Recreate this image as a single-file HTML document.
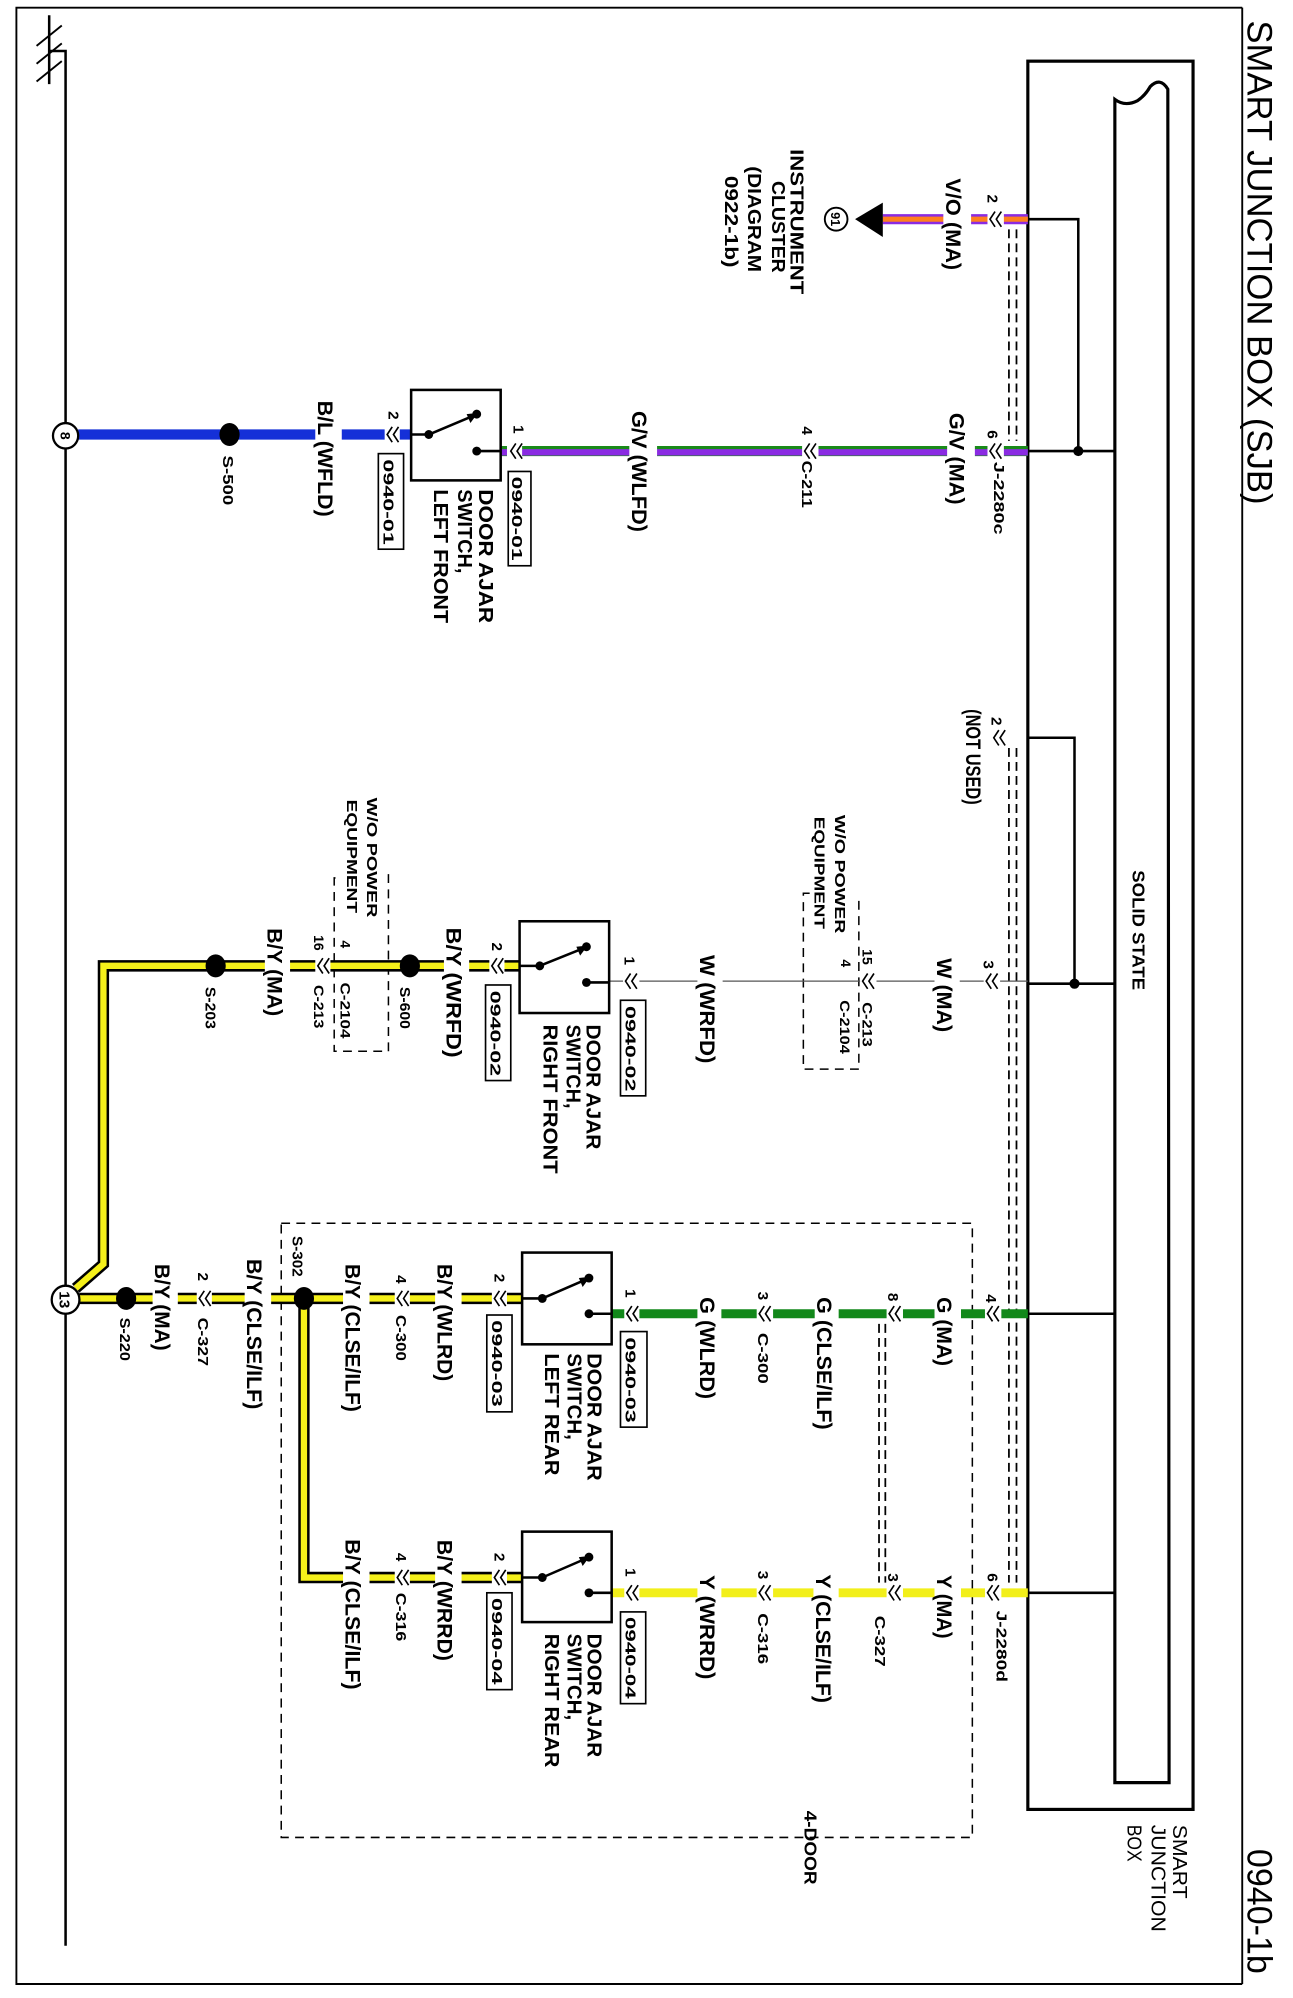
<!DOCTYPE html>
<html><head><meta charset="utf-8"><style>
html,body{margin:0;padding:0;background:#fff;}
svg{display:block;}
text{font-family:"Liberation Sans",Arial,sans-serif;font-weight:bold;fill:#000;}
</style></head><body>
<svg width="1293" height="1998" viewBox="0 0 1015 1568" preserveAspectRatio="none" xmlns="http://www.w3.org/2000/svg">
<rect x="0" y="0" width="1015" height="1568" fill="#fff"/>
<g transform="scale(0.99,1)">
<!-- frame -->
<polyline points="985,6 13,6 13,1557 985,1557" fill="none" stroke="#000" stroke-width="1.5"/>
<line x1="985" y1="6" x2="985" y2="1557" stroke="#000" stroke-width="1.5"/>
<!-- ground -->
<line x1="39" y1="12" x2="39" y2="66" stroke="#000" stroke-width="2"/>
<line x1="29" y1="36" x2="49" y2="20" stroke="#000" stroke-width="1.5"/>
<line x1="29" y1="50" x2="49" y2="34" stroke="#000" stroke-width="1.5"/>
<line x1="29" y1="64" x2="49" y2="48" stroke="#000" stroke-width="1.5"/>
<polyline points="39,40 52,40 52,1527" fill="none" stroke="#000" stroke-width="2"/>

<!-- SJB box -->
<rect x="815" y="48" width="131" height="1372" fill="none" stroke="#000" stroke-width="2.5"/>
<path d="M884,1399 L884,78 Q892,84 902,79 Q908,75 912,68 Q920,60 926,70 L927,1399 Z" fill="none" stroke="#000" stroke-width="2.5"/>
<polyline points="815,172 855,172 855,354" fill="none" stroke="#000" stroke-width="2"/>
<line x1="815" y1="354" x2="884" y2="354" stroke="#000" stroke-width="2"/>
<circle cx="855" cy="354" r="4" fill="#000"/>
<polyline points="815,579 852,579 852,772" fill="none" stroke="#000" stroke-width="2"/>
<line x1="815" y1="772" x2="884" y2="772" stroke="#000" stroke-width="2"/>
<circle cx="852" cy="772" r="4" fill="#000"/>
<line x1="815" y1="1031" x2="884" y2="1031" stroke="#000" stroke-width="2"/>
<line x1="815" y1="1250" x2="884" y2="1250" stroke="#000" stroke-width="2"/>
<!-- connector shell dashed lines -->
<g stroke="#000" stroke-width="1.4" stroke-dasharray="7,4" fill="none">
<line x1="800" y1="180" x2="800" y2="346"/><line x1="806" y1="180" x2="806" y2="346"/>
<line x1="800" y1="587" x2="800" y2="1242"/><line x1="806" y1="587" x2="806" y2="1242"/>
<line x1="697" y1="1039" x2="697" y2="1242"/><line x1="702" y1="1039" x2="702" y2="1242"/>
</g>
<!-- dashed option boxes -->
<g stroke="#000" stroke-width="1.2" stroke-dasharray="7,5" fill="none">
<rect x="223" y="960" width="548" height="482"/>
<polyline points="642,701 637,701 637,839 681,839 681,703"/>
<polyline points="308,686 308,825 265,825 265,689 269,689"/>
</g>

<!-- wires -->
<line x1="700" y1="172" x2="815" y2="172" stroke="#8a2be2" stroke-width="8"/>
<line x1="700" y1="172" x2="815" y2="172" stroke="#ff7f1e" stroke-width="4"/>
<polygon points="678,172 700,159 700,186" fill="#000"/>
<circle cx="663" cy="172" r="9" fill="#fff" stroke="#000" stroke-width="1.5"/>
<line x1="397" y1="354" x2="815" y2="354" stroke="#1a8a1a" stroke-width="8"/>
<line x1="397" y1="355" x2="815" y2="355" stroke="#8a2be2" stroke-width="5"/>
<line x1="62" y1="341" x2="326" y2="341" stroke="#1530d8" stroke-width="8"/>
<line x1="483" y1="770" x2="815" y2="770" stroke="#555" stroke-width="1"/>
<line x1="485" y1="1031" x2="815" y2="1031" stroke="#12881a" stroke-width="7"/>
<line x1="485" y1="1250" x2="815" y2="1250" stroke="#f2ef1a" stroke-width="7"/>
<g fill="none" stroke-linejoin="miter">
<polyline points="412,758 82,758 82,992 60,1011" stroke="#000" stroke-width="9"/>
<polyline points="412,758 82,758 82,992 60,1011" stroke="#f5f01a" stroke-width="5"/>
<line x1="63" y1="1019" x2="414" y2="1019" stroke="#000" stroke-width="9"/>
<line x1="63" y1="1019" x2="414" y2="1019" stroke="#f5f01a" stroke-width="5"/>
<polyline points="241,1019 241,1238 414,1238" stroke="#000" stroke-width="9"/>
<polyline points="241,1019 241,1238 414,1238" stroke="#f5f01a" stroke-width="5"/>
</g>

<!-- white gaps -->
<g fill="#fff">
<rect x="748" y="165" width="22" height="14"/><rect x="783" y="165" width="13" height="14"/>
<rect x="751" y="346" width="22" height="16"/><rect x="783" y="346" width="13" height="16"/>
<rect x="636" y="346" width="13" height="16"/><rect x="499" y="346" width="22" height="16"/>
<rect x="402" y="346" width="12" height="16"/>
<rect x="250" y="335" width="21" height="13"/><rect x="305" y="335" width="12" height="13"/>
<rect x="741" y="766" width="20" height="8"/><rect x="553" y="766" width="20" height="8"/>
<rect x="780" y="766" width="13" height="8"/><rect x="682" y="766" width="13" height="8"/>
<rect x="494" y="766" width="13" height="8"/>
<rect x="352" y="752" width="20" height="12"/><rect x="210" y="752" width="20" height="12"/>
<rect x="388" y="752" width="12" height="12"/><rect x="250" y="752" width="12" height="12"/>
<rect x="741" y="1026" width="21" height="10"/><rect x="646" y="1026" width="19" height="10"/>
<rect x="553" y="1026" width="19" height="10"/>
<rect x="781" y="1026" width="13" height="10"/><rect x="703" y="1026" width="13" height="10"/>
<rect x="600" y="1026" width="13" height="10"/><rect x="495" y="1026" width="12" height="10"/>
<rect x="345" y="1013" width="21" height="12"/><rect x="272" y="1013" width="21" height="12"/>
<rect x="194" y="1013" width="21" height="12"/><rect x="121" y="1013" width="20" height="12"/>
<rect x="390" y="1013" width="12" height="12"/><rect x="313" y="1013" width="12" height="12"/>
<rect x="156" y="1013" width="12" height="12"/>
<rect x="741" y="1245" width="21" height="10"/><rect x="645" y="1245" width="20" height="10"/>
<rect x="553" y="1245" width="19" height="10"/>
<rect x="781" y="1245" width="13" height="10"/><rect x="703" y="1245" width="13" height="10"/>
<rect x="600" y="1245" width="13" height="10"/><rect x="495" y="1245" width="12" height="10"/>
<rect x="345" y="1232" width="21" height="12"/><rect x="272" y="1232" width="21" height="12"/>
<rect x="390" y="1232" width="12" height="12"/><rect x="313" y="1232" width="12" height="12"/>
</g>

<!-- connector chevrons -->
<g fill="none" stroke="#000" stroke-width="1.3">
<path d="M789,166 L785,172 L789,178 M794,166 L790,172 L794,178"/>
<path d="M789,348 L785,354 L789,360 M794,348 L790,354 L794,360"/>
<path d="M642,348 L638,354 L642,360 M647,348 L643,354 L647,360"/>
<path d="M409,348 L405,354 L409,360 M414,348 L410,354 L414,360"/>
<path d="M311,335 L307,341 L311,347 M316,335 L312,341 L316,347"/>
<path d="M792,573 L788,579 L792,585 M797,573 L793,579 L797,585"/>
<path d="M786,764 L782,770 L786,776 M791,764 L787,770 L791,776"/>
<path d="M688,764 L684,770 L688,776 M693,764 L689,770 L693,776"/>
<path d="M500,764 L496,770 L500,776 M505,764 L501,770 L505,776"/>
<path d="M394,752 L390,758 L394,764 M399,752 L395,758 L399,764"/>
<path d="M256,752 L252,758 L256,764 M261,752 L257,758 L261,764"/>
<path d="M787,1025 L783,1031 L787,1037 M792,1025 L788,1031 L792,1037"/>
<path d="M709,1025 L705,1031 L709,1037 M714,1025 L710,1031 L714,1037"/>
<path d="M606,1025 L602,1031 L606,1037 M611,1025 L607,1031 L611,1037"/>
<path d="M501,1025 L497,1031 L501,1037 M506,1025 L502,1031 L506,1037"/>
<path d="M396,1013 L392,1019 L396,1025 M401,1013 L397,1019 L401,1025"/>
<path d="M319,1013 L315,1019 L319,1025 M324,1013 L320,1019 L324,1025"/>
<path d="M162,1013 L158,1019 L162,1025 M167,1013 L163,1019 L167,1025"/>
<path d="M787,1244 L783,1250 L787,1256 M792,1244 L788,1250 L792,1256"/>
<path d="M709,1244 L705,1250 L709,1256 M714,1244 L710,1250 L714,1256"/>
<path d="M606,1244 L602,1250 L606,1256 M611,1244 L607,1250 L611,1256"/>
<path d="M501,1244 L497,1250 L501,1256 M506,1244 L502,1250 L506,1256"/>
<path d="M396,1232 L392,1238 L396,1244 M401,1232 L397,1238 L401,1244"/>
<path d="M319,1232 L315,1238 L319,1244 M324,1232 L320,1238 L324,1244"/>
</g>

<g fill="#000">
<ellipse cx="182" cy="341" rx="8" ry="9"/>
<ellipse cx="325" cy="758" rx="8" ry="9"/>
<ellipse cx="171" cy="758" rx="8" ry="9"/>
<ellipse cx="241" cy="1019" rx="8" ry="9"/>
<ellipse cx="100" cy="1019" rx="8" ry="9"/>
</g>
<circle cx="52" cy="342" r="10" fill="#fff" stroke="#000" stroke-width="1.8"/>
<circle cx="52" cy="1020" r="11" fill="#fff" stroke="#000" stroke-width="1.8"/>

<!-- switches -->
<g stroke="#000" stroke-width="2" fill="#fff">
<rect x="326" y="306" width="71" height="71"/>
<rect x="412" y="723" width="71" height="72"/>
<rect x="414" y="983" width="71" height="72"/>
<rect x="414" y="1202" width="71" height="71"/>
</g>
<g stroke="#000" stroke-width="2" fill="none">
<line x1="326" y1="341" x2="340" y2="341"/><line x1="340" y1="341" x2="376" y2="326"/><line x1="378" y1="354" x2="397" y2="354"/>
<line x1="412" y1="758" x2="428" y2="758"/><line x1="428" y1="758" x2="463" y2="744"/><line x1="465" y1="771" x2="483" y2="771"/>
<line x1="414" y1="1019" x2="430" y2="1019"/><line x1="430" y1="1019" x2="465" y2="1004"/><line x1="467" y1="1031" x2="485" y2="1031"/>
<line x1="414" y1="1238" x2="430" y2="1238"/><line x1="430" y1="1238" x2="465" y2="1223"/><line x1="467" y1="1250" x2="485" y2="1250"/>
</g>
<g fill="#000">
<circle cx="340" cy="341" r="3.5"/><circle cx="378" cy="325" r="3.5"/><circle cx="378" cy="354" r="3.5"/>
<polygon points="370,325 379,324 373,332"/>
<circle cx="428" cy="758" r="3.5"/><circle cx="465" cy="743" r="3.5"/><circle cx="465" cy="771" r="3.5"/>
<polygon points="457,743 466,742 460,750"/>
<circle cx="430" cy="1019" r="3.5"/><circle cx="467" cy="1003" r="3.5"/><circle cx="467" cy="1031" r="3.5"/>
<polygon points="459,1003 468,1002 462,1010"/>
<circle cx="430" cy="1238" r="3.5"/><circle cx="467" cy="1222" r="3.5"/><circle cx="467" cy="1250" r="3.5"/>
<polygon points="459,1222 468,1221 462,1229"/>
</g>

<g fill="#fff" stroke="#000" stroke-width="1.3">
<rect x="403" y="370" width="18" height="74"/>
<rect x="300" y="356" width="20" height="75"/>
<rect x="492" y="785" width="20" height="75"/>
<rect x="385" y="773" width="20" height="75"/>
<rect x="492" y="1045" width="21" height="75"/>
<rect x="386" y="1032" width="20" height="76"/>
<rect x="492" y="1265" width="20" height="72"/>
<rect x="386" y="1250" width="20" height="76"/>
</g>

<!-- TEXT -->
<g>
<text transform="translate(989,206) rotate(90)" text-anchor="middle" font-size="28" textLength="380" lengthAdjust="spacingAndGlyphs" style="font-weight:normal">SMART JUNCTION BOX (SJB)</text>
<text transform="translate(989,1500) rotate(90)" text-anchor="middle" font-size="28" textLength="98" lengthAdjust="spacingAndGlyphs" style="font-weight:normal">0940-1b</text>
<text transform="translate(930,1432) rotate(90)" font-size="16" textLength="58" lengthAdjust="spacingAndGlyphs" style="font-weight:normal">SMART</text>
<text transform="translate(913,1432) rotate(90)" font-size="16" textLength="84" lengthAdjust="spacingAndGlyphs" style="font-weight:normal">JUNCTION</text>
<text transform="translate(894,1432) rotate(90)" font-size="16" textLength="29" lengthAdjust="spacingAndGlyphs" style="font-weight:normal">BOX</text>
<text transform="translate(638,1450) rotate(90)" text-anchor="middle" font-size="14" textLength="58" lengthAdjust="spacingAndGlyphs">4-DOOR</text>
<text transform="translate(898,730) rotate(90)" text-anchor="middle" font-size="14" textLength="94" lengthAdjust="spacingAndGlyphs">SOLID STATE</text>

<text transform="translate(627,174) rotate(90)" text-anchor="middle" font-size="15" textLength="114" lengthAdjust="spacingAndGlyphs">INSTRUMENT</text>
<text transform="translate(612,178) rotate(90)" text-anchor="middle" font-size="15" textLength="72" lengthAdjust="spacingAndGlyphs">CLUSTER</text>
<text transform="translate(593,172) rotate(90)" text-anchor="middle" font-size="15" textLength="83" lengthAdjust="spacingAndGlyphs">(DIAGRAM</text>
<text transform="translate(575,174) rotate(90)" text-anchor="middle" font-size="15" textLength="72" lengthAdjust="spacingAndGlyphs">0922-1b)</text>
<text transform="translate(659,172) rotate(90)" text-anchor="middle" font-size="10">91</text>
<text transform="translate(48,342) rotate(90)" text-anchor="middle" font-size="11">8</text>
<text transform="translate(47,1020) rotate(90)" text-anchor="middle" font-size="12">13</text>

<text transform="translate(750,176) rotate(90)" text-anchor="middle" font-size="17" textLength="72" lengthAdjust="spacingAndGlyphs">V/O (MA)</text>
<text transform="translate(783,156) rotate(90)" text-anchor="middle" font-size="12">2</text>
<text transform="translate(753,360) rotate(90)" text-anchor="middle" font-size="17" textLength="72" lengthAdjust="spacingAndGlyphs">G/V (MA)</text>
<text transform="translate(783,341) rotate(90)" text-anchor="middle" font-size="12">6</text>
<text transform="translate(788,391) rotate(90)" text-anchor="middle" font-size="12" textLength="57" lengthAdjust="spacingAndGlyphs">J-2280c</text>
<text transform="translate(636,380) rotate(90)" text-anchor="middle" font-size="12" textLength="37" lengthAdjust="spacingAndGlyphs">C-211</text>
<text transform="translate(636,338) rotate(90)" text-anchor="middle" font-size="12">4</text>
<text transform="translate(501,370) rotate(90)" text-anchor="middle" font-size="17" textLength="95" lengthAdjust="spacingAndGlyphs">G/V (WLFD)</text>
<text transform="translate(407,337) rotate(90)" text-anchor="middle" font-size="12">1</text>
<text transform="translate(406,407) rotate(90)" text-anchor="middle" font-size="12" textLength="66" lengthAdjust="spacingAndGlyphs">0940-01</text>
<text transform="translate(308,326) rotate(90)" text-anchor="middle" font-size="12">2</text>
<text transform="translate(304,394) rotate(90)" text-anchor="middle" font-size="12" textLength="67" lengthAdjust="spacingAndGlyphs">0940-01</text>
<text transform="translate(252,360) rotate(90)" text-anchor="middle" font-size="17" textLength="91" lengthAdjust="spacingAndGlyphs">B/L (WFLD)</text>
<text transform="translate(177,377) rotate(90)" text-anchor="middle" font-size="12" textLength="39" lengthAdjust="spacingAndGlyphs">S-500</text>
<text transform="translate(380,384) rotate(90)" font-size="16" textLength="105" lengthAdjust="spacingAndGlyphs">DOOR AJAR</text>
<text transform="translate(363,384) rotate(90)" font-size="16" textLength="66" lengthAdjust="spacingAndGlyphs">SWITCH,</text>
<text transform="translate(344,384) rotate(90)" font-size="16" textLength="105" lengthAdjust="spacingAndGlyphs">LEFT FRONT</text>

<text transform="translate(766,594) rotate(90)" text-anchor="middle" font-size="17" textLength="75" lengthAdjust="spacingAndGlyphs">(NOT USED)</text>
<text transform="translate(786,566) rotate(90)" text-anchor="middle" font-size="12">2</text>
<text transform="translate(780,757) rotate(90)" text-anchor="middle" font-size="12">3</text>
<text transform="translate(743,781) rotate(90)" text-anchor="middle" font-size="17" textLength="58" lengthAdjust="spacingAndGlyphs">W (MA)</text>
<text transform="translate(684,751) rotate(90)" text-anchor="middle" font-size="11">15</text>
<text transform="translate(667,756) rotate(90)" text-anchor="middle" font-size="11">4</text>
<text transform="translate(684,804) rotate(90)" text-anchor="middle" font-size="11" textLength="35" lengthAdjust="spacingAndGlyphs">C-213</text>
<text transform="translate(666,806) rotate(90)" text-anchor="middle" font-size="11" textLength="42" lengthAdjust="spacingAndGlyphs">C-2104</text>
<text transform="translate(662,686) rotate(90)" text-anchor="middle" font-size="12" textLength="93" lengthAdjust="spacingAndGlyphs">W/O POWER</text>
<text transform="translate(646,685) rotate(90)" text-anchor="middle" font-size="12" textLength="88" lengthAdjust="spacingAndGlyphs">EQUIPMENT</text>
<text transform="translate(555,792) rotate(90)" text-anchor="middle" font-size="17" textLength="85" lengthAdjust="spacingAndGlyphs">W (WRFD)</text>
<text transform="translate(495,754) rotate(90)" text-anchor="middle" font-size="12">1</text>
<text transform="translate(496,823) rotate(90)" text-anchor="middle" font-size="12" textLength="67" lengthAdjust="spacingAndGlyphs">0940-02</text>
<text transform="translate(465,804) rotate(90)" font-size="16" textLength="98" lengthAdjust="spacingAndGlyphs">DOOR AJAR</text>
<text transform="translate(449,804) rotate(90)" font-size="16" textLength="66" lengthAdjust="spacingAndGlyphs">SWITCH,</text>
<text transform="translate(431,804) rotate(90)" font-size="16" textLength="117" lengthAdjust="spacingAndGlyphs">RIGHT FRONT</text>
<text transform="translate(389,811) rotate(90)" text-anchor="middle" font-size="12" textLength="67" lengthAdjust="spacingAndGlyphs">0940-02</text>
<text transform="translate(390,743) rotate(90)" text-anchor="middle" font-size="12">2</text>
<text transform="translate(354,779) rotate(90)" text-anchor="middle" font-size="17" textLength="102" lengthAdjust="spacingAndGlyphs">B/Y (WRFD)</text>
<text transform="translate(317,791) rotate(90)" text-anchor="middle" font-size="12" textLength="33" lengthAdjust="spacingAndGlyphs">S-600</text>
<text transform="translate(291,673) rotate(90)" text-anchor="middle" font-size="12" textLength="94" lengthAdjust="spacingAndGlyphs">W/O POWER</text>
<text transform="translate(275,672) rotate(90)" text-anchor="middle" font-size="12" textLength="89" lengthAdjust="spacingAndGlyphs">EQUIPMENT</text>
<text transform="translate(270,741) rotate(90)" text-anchor="middle" font-size="11">4</text>
<text transform="translate(270,793) rotate(90)" text-anchor="middle" font-size="11" textLength="44" lengthAdjust="spacingAndGlyphs">C-2104</text>
<text transform="translate(249,740) rotate(90)" text-anchor="middle" font-size="11">16</text>
<text transform="translate(249,790) rotate(90)" text-anchor="middle" font-size="11" textLength="34" lengthAdjust="spacingAndGlyphs">C-213</text>
<text transform="translate(212,763) rotate(90)" text-anchor="middle" font-size="17" textLength="69" lengthAdjust="spacingAndGlyphs">B/Y (MA)</text>
<text transform="translate(163,791) rotate(90)" text-anchor="middle" font-size="12" textLength="33" lengthAdjust="spacingAndGlyphs">S-203</text>

<text transform="translate(782,1019) rotate(90)" text-anchor="middle" font-size="12">4</text>
<text transform="translate(743,1045) rotate(90)" text-anchor="middle" font-size="17" textLength="54" lengthAdjust="spacingAndGlyphs">G (MA)</text>
<text transform="translate(704,1018) rotate(90)" text-anchor="middle" font-size="12">8</text>
<text transform="translate(648,1070) rotate(90)" text-anchor="middle" font-size="17" textLength="104" lengthAdjust="spacingAndGlyphs">G (CLSE/ILF)</text>
<text transform="translate(601,1017) rotate(90)" text-anchor="middle" font-size="12">3</text>
<text transform="translate(601,1066) rotate(90)" text-anchor="middle" font-size="12" textLength="40" lengthAdjust="spacingAndGlyphs">C-300</text>
<text transform="translate(555,1058) rotate(90)" text-anchor="middle" font-size="17" textLength="80" lengthAdjust="spacingAndGlyphs">G (WLRD)</text>
<text transform="translate(496,1015) rotate(90)" text-anchor="middle" font-size="12">1</text>
<text transform="translate(496,1083) rotate(90)" text-anchor="middle" font-size="12" textLength="67" lengthAdjust="spacingAndGlyphs">0940-03</text>
<text transform="translate(466,1062) rotate(90)" font-size="16" textLength="100" lengthAdjust="spacingAndGlyphs">DOOR AJAR</text>
<text transform="translate(450,1062) rotate(90)" font-size="16" textLength="68" lengthAdjust="spacingAndGlyphs">SWITCH,</text>
<text transform="translate(432,1062) rotate(90)" font-size="16" textLength="96" lengthAdjust="spacingAndGlyphs">LEFT REAR</text>
<text transform="translate(390,1070) rotate(90)" text-anchor="middle" font-size="12" textLength="68" lengthAdjust="spacingAndGlyphs">0940-03</text>
<text transform="translate(392,1003) rotate(90)" text-anchor="middle" font-size="12">2</text>
<text transform="translate(347,1038) rotate(90)" text-anchor="middle" font-size="17" textLength="92" lengthAdjust="spacingAndGlyphs">B/Y (WLRD)</text>
<text transform="translate(314,1004) rotate(90)" text-anchor="middle" font-size="12">4</text>
<text transform="translate(314,1050) rotate(90)" text-anchor="middle" font-size="12" textLength="36" lengthAdjust="spacingAndGlyphs">C-300</text>
<text transform="translate(274,1050) rotate(90)" text-anchor="middle" font-size="17" textLength="116" lengthAdjust="spacingAndGlyphs">B/Y (CLSE/ILF)</text>
<text transform="translate(232,986) rotate(90)" text-anchor="middle" font-size="12" textLength="32" lengthAdjust="spacingAndGlyphs">S-302</text>
<text transform="translate(196,1047) rotate(90)" text-anchor="middle" font-size="17" textLength="118" lengthAdjust="spacingAndGlyphs">B/Y (CLSE/ILF)</text>
<text transform="translate(157,1002) rotate(90)" text-anchor="middle" font-size="12">2</text>
<text transform="translate(157,1053) rotate(90)" text-anchor="middle" font-size="12" textLength="38" lengthAdjust="spacingAndGlyphs">C-327</text>
<text transform="translate(123,1026) rotate(90)" text-anchor="middle" font-size="17" textLength="68" lengthAdjust="spacingAndGlyphs">B/Y (MA)</text>
<text transform="translate(95,1051) rotate(90)" text-anchor="middle" font-size="12" textLength="34" lengthAdjust="spacingAndGlyphs">S-220</text>

<text transform="translate(783,1238) rotate(90)" text-anchor="middle" font-size="12">6</text>
<text transform="translate(790,1292) rotate(90)" text-anchor="middle" font-size="12" textLength="56" lengthAdjust="spacingAndGlyphs">J-2280d</text>
<text transform="translate(743,1261) rotate(90)" text-anchor="middle" font-size="17" textLength="50" lengthAdjust="spacingAndGlyphs">Y (MA)</text>
<text transform="translate(704,1238) rotate(90)" text-anchor="middle" font-size="12">3</text>
<text transform="translate(694,1288) rotate(90)" text-anchor="middle" font-size="12" textLength="40" lengthAdjust="spacingAndGlyphs">C-327</text>
<text transform="translate(647,1286) rotate(90)" text-anchor="middle" font-size="17" textLength="101" lengthAdjust="spacingAndGlyphs">Y (CLSE/ILF)</text>
<text transform="translate(601,1236) rotate(90)" text-anchor="middle" font-size="12">3</text>
<text transform="translate(601,1286) rotate(90)" text-anchor="middle" font-size="12" textLength="40" lengthAdjust="spacingAndGlyphs">C-316</text>
<text transform="translate(555,1277) rotate(90)" text-anchor="middle" font-size="17" textLength="82" lengthAdjust="spacingAndGlyphs">Y (WRRD)</text>
<text transform="translate(496,1234) rotate(90)" text-anchor="middle" font-size="12">1</text>
<text transform="translate(496,1301) rotate(90)" text-anchor="middle" font-size="12" textLength="64" lengthAdjust="spacingAndGlyphs">0940-04</text>
<text transform="translate(466,1282) rotate(90)" font-size="16" textLength="97" lengthAdjust="spacingAndGlyphs">DOOR AJAR</text>
<text transform="translate(450,1282) rotate(90)" font-size="16" textLength="68" lengthAdjust="spacingAndGlyphs">SWITCH,</text>
<text transform="translate(432,1282) rotate(90)" font-size="16" textLength="105" lengthAdjust="spacingAndGlyphs">RIGHT REAR</text>
<text transform="translate(390,1288) rotate(90)" text-anchor="middle" font-size="12" textLength="68" lengthAdjust="spacingAndGlyphs">0940-04</text>
<text transform="translate(392,1222) rotate(90)" text-anchor="middle" font-size="12">2</text>
<text transform="translate(347,1256) rotate(90)" text-anchor="middle" font-size="17" textLength="95" lengthAdjust="spacingAndGlyphs">B/Y (WRRD)</text>
<text transform="translate(314,1222) rotate(90)" text-anchor="middle" font-size="12">4</text>
<text transform="translate(314,1269) rotate(90)" text-anchor="middle" font-size="12" textLength="38" lengthAdjust="spacingAndGlyphs">C-316</text>
<text transform="translate(274,1267) rotate(90)" text-anchor="middle" font-size="17" textLength="118" lengthAdjust="spacingAndGlyphs">B/Y (CLSE/ILF)</text>
</g>
</g>
</svg>
</body></html>
